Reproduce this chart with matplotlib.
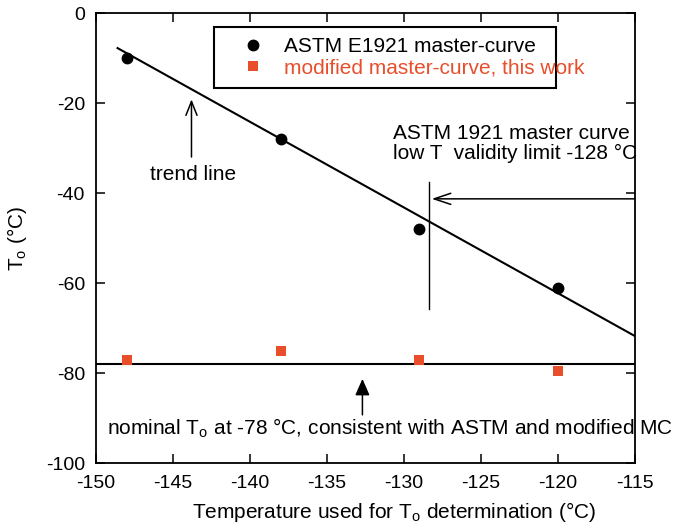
import numpy as np
import matplotlib
matplotlib.use("Agg")
import matplotlib.pyplot as plt

plt.rcParams["font.family"] = ["Liberation Sans", "DejaVu Sans"]
plt.rcParams["mathtext.fontset"] = "custom"
plt.rcParams["mathtext.rm"] = "Liberation Sans"
plt.rcParams["axes.unicode_minus"] = False

# test temperatures and T0 results
test_temp = [-148, -138, -129, -120]
t0_astm = [-10, -28, -48, -61]
t0_modified = [-77, -75, -77, -79.5]

# trend line end points
trend_x = [-148.6, -115]
trend_y = [-7.8, -71.8]

nominal_t0 = -78
validity_limit = -128.4

red = "#e94e2b"
fs = 15

fig = plt.figure(figsize=(6.79, 5.26), dpi=100)
ax = fig.add_axes([96 / 679, 63 / 526, 539 / 679, 450 / 526])

ax.plot(test_temp, t0_astm, "o", color="black", markersize=7.5,
        label="ASTM E1921 master-curve", zorder=3)
ax.plot(test_temp, t0_modified, "s", color=red, markersize=7.2,
        markeredgewidth=0, label="modified master-curve, this work", zorder=3)

ax.plot(trend_x, trend_y, color="black", lw=1.5)
ax.axhline(nominal_t0, color="black", lw=1.5)
ax.plot([validity_limit, validity_limit], [-37.5, -65.8], color="black", lw=1.0)

# annotations
ax.annotate("", xy=(-143.8, -19.2), xytext=(-143.8, -32),
            arrowprops=dict(arrowstyle="->,head_length=0.5,head_width=0.2",
                            color="black", lw=1.1, mutation_scale=20,
                            shrinkA=0, shrinkB=0))
ax.text(-143.7, -36, "trend line", ha="center", va="center", fontsize=fs)

ax.annotate("", xy=(-128.2, -41.3), xytext=(-115, -41.3),
            arrowprops=dict(arrowstyle="->,head_length=0.6,head_width=0.2",
                            color="black", lw=1.1, mutation_scale=20,
                            shrinkA=0, shrinkB=0))
ax.text(-130.7, -29.0, "ASTM 1921 master curve\nlow T  validity limit -128 °C",
        ha="left", va="center", fontsize=fs, linespacing=1.1)

ax.annotate("", xy=(-132.7, -81.3), xytext=(-132.7, -89.3),
            arrowprops=dict(arrowstyle="-|>,head_length=0.5,head_width=0.22",
                            color="black", lw=1.1, mutation_scale=20,
                            shrinkA=0, shrinkB=0))
ax.text(-149.3, -92.2,
        r"nominal T$_\mathregular{o}$ at -78 °C, consistent with ASTM and modified MC",
        ha="left", va="center", fontsize=fs)

ax.set_xlim(-150, -115)
ax.set_ylim(-100, 0)
ax.set_xticks(np.arange(-150, -114, 5))
ax.set_yticks(np.arange(-100, 1, 20))
ax.tick_params(direction="in", length=6.5, width=1.1, top=True, right=True,
               labelsize=14)
ax.tick_params(axis="x", pad=8.5)
ax.tick_params(axis="y", pad=8)
for s in ax.spines.values():
    s.set_linewidth(1.3)

ax.set_xlabel(r"Temperature used for T$_\mathregular{o}$ determination (°C)",
              fontsize=fs)
ax.xaxis.set_label_coords(0.553, -0.083)
ax.set_ylabel(r"T$_\mathregular{o}$ (°C)", fontsize=fs, labelpad=12)

leg = ax.legend(loc="upper left", bbox_to_anchor=(0.219, 0.5, 0.634, 0.469),
                mode="expand", borderaxespad=0, fontsize=fs, fancybox=False,
                edgecolor="black", framealpha=1, handlelength=2.75,
                handletextpad=0.1, borderpad=0.5, labelspacing=0.1)
leg.get_frame().set_linewidth(1.5)
leg.get_texts()[1].set_color(red)

fig.savefig("out.png", dpi=100)
